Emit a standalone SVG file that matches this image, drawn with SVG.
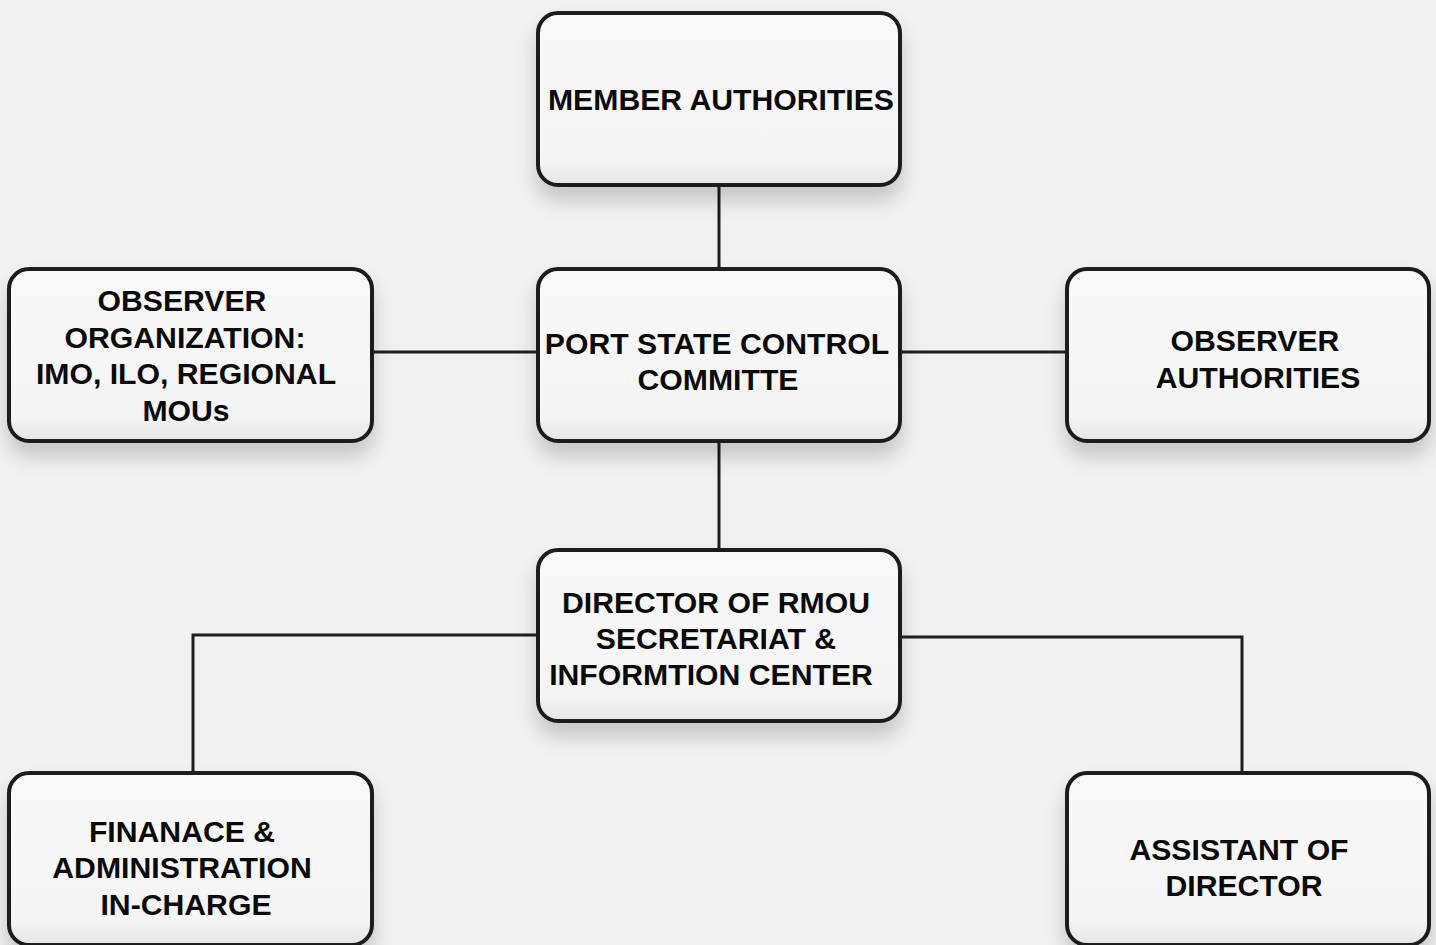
<svg xmlns="http://www.w3.org/2000/svg" width="1436" height="945" viewBox="0 0 1436 945">
<defs>
<linearGradient id="fillg" x1="0" y1="0" x2="0" y2="1">
<stop offset="0" stop-color="#f8f8f8"/>
<stop offset="0.85" stop-color="#f4f4f4"/>
<stop offset="1" stop-color="#e6e6e6"/>
</linearGradient>
<filter id="sh" x="-20%" y="-20%" width="140%" height="160%">
<feDropShadow dx="0" dy="14" stdDeviation="10" flood-color="#000" flood-opacity="0.18"/>
</filter>
<style>
.box{fill:url(#fillg);stroke:#1e1e1e;stroke-width:4;filter:url(#sh)}
.t{font-family:"Liberation Sans",Arial,sans-serif;font-weight:bold;font-size:30.2px;fill:#0a0a0a;text-anchor:middle}
.c{fill:none;stroke:#1e1e1e;stroke-width:3}
</style>
</defs>
<rect width="1436" height="945" fill="#f1f1f1"/>
<g id="connectors">
<path class="c" d="M719,186 V268"/>
<path class="c" d="M373,352 H537"/>
<path class="c" d="M901,352 H1066"/>
<path class="c" d="M719,442 V549"/>
<path class="c" d="M537,635 H193 V772"/>
<path class="c" d="M901,637 H1242 V772"/>
</g>
<g id="member-authorities">
<rect class="box" x="538" y="13" width="362" height="172" rx="20"/>
<text class="t" x="721" y="110">MEMBER AUTHORITIES</text>
</g>
<g id="observer-organization">
<rect class="box" x="9" y="269" width="363" height="172" rx="20"/>
<text class="t" x="182" y="311">OBSERVER</text>
<text class="t" x="185" y="348">ORGANIZATION:</text>
<text class="t" x="186" y="384">IMO, ILO, REGIONAL</text>
<text class="t" x="186" y="421">MOUs</text>
</g>
<g id="port-state-control-committe">
<rect class="box" x="538" y="269" width="362" height="172" rx="20"/>
<text class="t" x="717" y="354">PORT STATE CONTROL</text>
<text class="t" x="718" y="390">COMMITTE</text>
</g>
<g id="observer-authorities">
<rect class="box" x="1067" y="269" width="362" height="172" rx="20"/>
<text class="t" x="1255" y="351">OBSERVER</text>
<text class="t" x="1258" y="388">AUTHORITIES</text>
</g>
<g id="director">
<rect class="box" x="538" y="550" width="362" height="171" rx="20"/>
<text class="t" x="716" y="613">DIRECTOR OF RMOU</text>
<text class="t" x="716" y="649">SECRETARIAT &amp;</text>
<text class="t" x="711" y="685">INFORMTION CENTER</text>
</g>
<g id="finance">
<rect class="box" x="9" y="773" width="363" height="172" rx="20"/>
<text class="t" x="182" y="842">FINANACE &amp;</text>
<text class="t" x="182" y="878">ADMINISTRATION</text>
<text class="t" x="186" y="915">IN-CHARGE</text>
</g>
<g id="assistant">
<rect class="box" x="1067" y="773" width="362" height="172" rx="20"/>
<text class="t" x="1239" y="860">ASSISTANT OF</text>
<text class="t" x="1244" y="896">DIRECTOR</text>
</g>
</svg>
